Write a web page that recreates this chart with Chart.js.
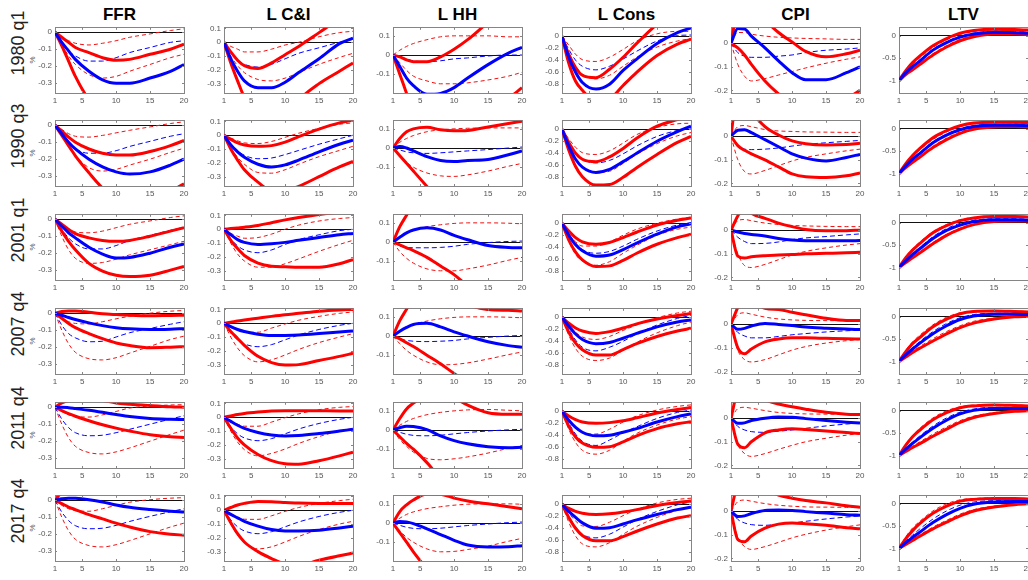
<!DOCTYPE html>
<html><head><meta charset="utf-8">
<script src="https://cdn.jsdelivr.net/npm/chart.js@4.4.1/dist/chart.umd.min.js"></script>
<style>
html,body{margin:0;padding:0;background:#fff;}
body{width:1028px;height:580px;overflow:hidden;position:relative;font-family:'Liberation Sans','DejaVu Sans',sans-serif;}
canvas{position:absolute;}
.title{position:absolute;top:6px;font-family:'Liberation Sans','DejaVu Sans',sans-serif;font-weight:bold;font-size:17px;line-height:17px;color:#000;transform:translateX(-50%);white-space:nowrap;}
.rowlab{position:absolute;font-family:'Liberation Sans','DejaVu Sans',sans-serif;font-weight:normal;font-size:18px;line-height:18px;color:#222;white-space:nowrap;transform:translate(-50%,-50%) rotate(-90deg);}
.pct{position:absolute;font-family:'Liberation Sans','DejaVu Sans',sans-serif;font-size:8px;line-height:8px;color:#555;transform:translate(-50%,-50%) rotate(-90deg);}
</style>
</head><body>
<script>
// ---------- categories / ticks ----------
const steps = [1,2,3,4,6,8,10,12,15,18,20];
const variables = ['FFR','L C&I','L HH','L Cons','CPI','LTV'];
const periods = ['1980 q1','1990 q3','2001 q1','2007 q4','2011 q4','2017 q4'];
const xTickValues = [1,5,10,15,20];
const xTickLabels = ['1','5','10','15','20'];
const yTickValues = [[0,-0.1,-0.2,-0.3],[0.1,0,-0.1,-0.2,-0.3],[0.1,0,-0.1],[0,-0.2,-0.4,-0.6,-0.8],[0,-0.1,-0.2],[0,-0.5,-1]];
const yTickLabels = [['0','-0.1','-0.2','-0.3'],['0.1','0','-0.1','-0.2','-0.3'],['0.1','0','-0.1'],['0','-0.2','-0.4','-0.6','-0.8'],['0','-0.1','-0.2'],['0','-0.5','-1']];
const yMin = [-0.358,-0.368,-0.198,-0.945,-0.211,-1.28];
const yMax = [0.026,0.105,0.142,0.14,0.065,0.18];
const yLabel = '%';

// ---------- series: [blue solid, blue dashed, red upper, red lower, red dashed upper, red dashed lower] ----------
const r1_ffr = [
[0,-0.06,-0.11,-0.16,-0.23,-0.28,-0.30,-0.30,-0.27,-0.23,-0.19],
[0,-0.06,-0.11,-0.14,-0.17,-0.17,-0.15,-0.12,-0.09,-0.06,-0.05],
[0,-0.03,-0.06,-0.09,-0.12,-0.15,-0.165,-0.16,-0.13,-0.10,-0.07],
[0,-0.08,-0.17,-0.26,-0.40,-0.50,-0.55,-0.55,-0.50,-0.45,-0.42],
[0,-0.03,-0.05,-0.065,-0.075,-0.065,-0.05,-0.03,-0.01,0.01,0.02],
[0,-0.07,-0.14,-0.19,-0.25,-0.27,-0.26,-0.23,-0.19,-0.15,-0.13]];
const r1_lci = [
[0,-0.12,-0.21,-0.28,-0.33,-0.33,-0.29,-0.22,-0.12,-0.01,0.03],
[0,-0.08,-0.13,-0.16,-0.18,-0.16,-0.12,-0.08,-0.04,0.0,0.02],
[0,-0.07,-0.13,-0.17,-0.19,-0.15,-0.09,-0.03,0.07,0.17,0.23],
[0,-0.15,-0.28,-0.40,-0.55,-0.60,-0.55,-0.42,-0.30,-0.21,-0.15],
[0,-0.03,-0.05,-0.07,-0.07,-0.05,-0.02,0.0,0.04,0.07,0.08],
[0,-0.10,-0.17,-0.22,-0.27,-0.28,-0.26,-0.22,-0.16,-0.11,-0.08]];
const r1_lhh = [
[0,-0.06,-0.12,-0.16,-0.205,-0.20,-0.17,-0.12,-0.05,0.01,0.04],
[0,-0.01,-0.02,-0.03,-0.035,-0.03,-0.02,-0.015,-0.005,0.0,0.0],
[0,-0.01,-0.025,-0.035,-0.035,-0.01,0.03,0.08,0.17,0.25,0.30],
[0,-0.10,-0.20,-0.30,-0.45,-0.50,-0.50,-0.45,-0.35,-0.23,-0.17],
[0,0.025,0.045,0.06,0.08,0.095,0.10,0.10,0.10,0.095,0.095],
[0,-0.04,-0.08,-0.11,-0.135,-0.15,-0.15,-0.145,-0.13,-0.11,-0.09]];
const r1_lcons = [
[0,-0.35,-0.6,-0.77,-0.88,-0.80,-0.57,-0.38,-0.12,0.06,0.14],
[0,-0.22,-0.4,-0.5,-0.56,-0.50,-0.38,-0.25,-0.08,0.01,0.02],
[0,-0.3,-0.52,-0.65,-0.69,-0.55,-0.35,-0.12,0.2,0.45,0.6],
[0,-0.45,-0.75,-0.9,-1.1,-1.05,-0.82,-0.6,-0.32,-0.13,-0.05],
[0,-0.15,-0.3,-0.39,-0.42,-0.35,-0.22,-0.08,0.04,0.08,0.08],
[0,-0.3,-0.5,-0.63,-0.71,-0.65,-0.5,-0.35,-0.18,-0.08,-0.04]];
const r1_cpi = [
[0,0.062,0.06,0.03,-0.02,-0.075,-0.125,-0.155,-0.155,-0.125,-0.10],
[0,-0.04,-0.055,-0.06,-0.06,-0.055,-0.05,-0.04,-0.03,-0.025,-0.02],
[0,0.15,0.2,0.18,0.1,0.045,0.005,-0.035,-0.058,-0.045,-0.03],
[0,-0.02,-0.05,-0.09,-0.16,-0.215,-0.26,-0.28,-0.27,-0.235,-0.2],
[0,0.045,0.045,0.038,0.03,0.025,0.022,0.02,0.018,0.016,0.016],
[0,-0.09,-0.14,-0.16,-0.15,-0.135,-0.12,-0.105,-0.085,-0.068,-0.058]];
const r1_ltv = [
[-1,-0.83,-0.69,-0.57,-0.32,-0.15,-0.03,0.04,0.08,0.07,0.06],
[-1,-0.82,-0.67,-0.55,-0.3,-0.13,-0.01,0.06,0.1,0.09,0.08],
[-1,-0.78,-0.6,-0.46,-0.22,-0.06,0.06,0.12,0.15,0.14,0.13],
[-1,-0.87,-0.76,-0.65,-0.43,-0.25,-0.11,-0.02,0.04,0.04,0.03],
[-1,-0.8,-0.63,-0.5,-0.26,-0.09,0.03,0.1,0.13,0.12,0.11],
[-1,-0.86,-0.73,-0.62,-0.4,-0.22,-0.08,0.0,0.05,0.05,0.04]];

const r2_ffr = [
[0,-0.05,-0.10,-0.14,-0.2,-0.245,-0.275,-0.288,-0.275,-0.235,-0.2],
[0,-0.06,-0.11,-0.14,-0.165,-0.165,-0.15,-0.125,-0.095,-0.065,-0.05],
[0,-0.035,-0.07,-0.1,-0.14,-0.165,-0.175,-0.175,-0.155,-0.12,-0.09],
[0,-0.06,-0.12,-0.18,-0.28,-0.37,-0.43,-0.46,-0.45,-0.39,-0.345],
[0,-0.025,-0.05,-0.065,-0.07,-0.06,-0.045,-0.03,-0.01,0.01,0.02],
[0,-0.06,-0.13,-0.18,-0.25,-0.27,-0.26,-0.235,-0.2,-0.16,-0.135]];
const r2_lci = [
[0,-0.07,-0.12,-0.16,-0.21,-0.23,-0.215,-0.18,-0.12,-0.065,-0.035],
[0,-0.06,-0.11,-0.145,-0.17,-0.165,-0.14,-0.11,-0.065,-0.025,0.0],
[0,-0.03,-0.055,-0.07,-0.08,-0.075,-0.05,-0.01,0.045,0.09,0.11],
[0,-0.1,-0.18,-0.25,-0.34,-0.4,-0.4,-0.37,-0.3,-0.23,-0.19],
[0,-0.02,-0.04,-0.055,-0.06,-0.045,-0.015,0.015,0.05,0.08,0.09],
[0,-0.09,-0.16,-0.21,-0.27,-0.275,-0.25,-0.21,-0.155,-0.11,-0.08]];
const r2_lhh = [
[0,0.008,0.0,-0.015,-0.045,-0.065,-0.07,-0.065,-0.06,-0.035,-0.015],
[0,-0.01,-0.02,-0.025,-0.028,-0.025,-0.02,-0.015,-0.008,0.0,0.005],
[0,0.05,0.085,0.1,0.108,0.095,0.09,0.092,0.11,0.128,0.14],
[0,-0.04,-0.08,-0.12,-0.2,-0.28,-0.33,-0.35,-0.35,-0.33,-0.3],
[0,0.03,0.05,0.065,0.085,0.095,0.1,0.103,0.105,0.105,0.105],
[0,-0.04,-0.075,-0.1,-0.13,-0.145,-0.148,-0.14,-0.12,-0.095,-0.08]];
const r2_lcons = [
[0,-0.28,-0.5,-0.63,-0.72,-0.67,-0.54,-0.4,-0.2,-0.04,0.05],
[0,-0.22,-0.4,-0.5,-0.56,-0.52,-0.41,-0.28,-0.12,-0.02,0.02],
[0,-0.22,-0.4,-0.5,-0.54,-0.46,-0.32,-0.15,0.05,0.16,0.22],
[0,-0.35,-0.62,-0.79,-0.93,-0.92,-0.8,-0.64,-0.42,-0.22,-0.12],
[0,-0.16,-0.3,-0.39,-0.42,-0.36,-0.23,-0.09,0.03,0.09,0.1],
[0,-0.28,-0.5,-0.63,-0.72,-0.7,-0.57,-0.42,-0.24,-0.11,-0.055]];
const r2_cpi = [
[0,0.025,0.027,0.015,-0.015,-0.045,-0.075,-0.093,-0.105,-0.09,-0.077],
[0,-0.04,-0.055,-0.057,-0.055,-0.05,-0.042,-0.035,-0.028,-0.022,-0.018],
[0,0.2,0.18,0.11,0.04,0.005,-0.02,-0.032,-0.037,-0.035,-0.03],
[0,-0.04,-0.06,-0.075,-0.1,-0.13,-0.16,-0.172,-0.175,-0.168,-0.156],
[0,0.04,0.045,0.04,0.028,0.022,0.02,0.018,0.017,0.016,0.016],
[0,-0.1,-0.15,-0.16,-0.145,-0.125,-0.105,-0.09,-0.075,-0.062,-0.055]];
const r2_ltv = [
[-1,-0.83,-0.68,-0.56,-0.31,-0.14,-0.02,0.05,0.08,0.08,0.07],
[-1,-0.82,-0.66,-0.54,-0.29,-0.12,0.0,0.07,0.1,0.1,0.09],
[-1,-0.78,-0.6,-0.45,-0.2,-0.04,0.07,0.13,0.15,0.15,0.14],
[-1,-0.87,-0.75,-0.64,-0.42,-0.24,-0.1,-0.01,0.04,0.05,0.04],
[-1,-0.79,-0.62,-0.48,-0.24,-0.07,0.05,0.11,0.14,0.13,0.12],
[-1,-0.86,-0.73,-0.62,-0.39,-0.21,-0.07,0.01,0.05,0.06,0.05]];

const r3_ffr = [
[0,-0.04,-0.08,-0.11,-0.165,-0.205,-0.228,-0.225,-0.2,-0.165,-0.145],
[0,-0.06,-0.11,-0.145,-0.175,-0.175,-0.155,-0.125,-0.095,-0.065,-0.048],
[0,-0.03,-0.06,-0.085,-0.11,-0.125,-0.13,-0.125,-0.1,-0.07,-0.05],
[0,-0.07,-0.13,-0.18,-0.26,-0.305,-0.33,-0.338,-0.33,-0.3,-0.278],
[0,-0.03,-0.055,-0.075,-0.08,-0.07,-0.05,-0.03,-0.01,0.01,0.02],
[0,-0.1,-0.18,-0.23,-0.26,-0.255,-0.235,-0.21,-0.18,-0.15,-0.13]];
const r3_lci = [
[0,-0.04,-0.075,-0.095,-0.11,-0.105,-0.095,-0.08,-0.06,-0.04,-0.03],
[0,-0.07,-0.12,-0.15,-0.17,-0.15,-0.11,-0.075,-0.04,-0.01,0.0],
[0,0.005,0.01,0.015,0.028,0.048,0.068,0.085,0.107,0.125,0.135],
[0,-0.08,-0.14,-0.19,-0.245,-0.268,-0.272,-0.275,-0.275,-0.25,-0.22],
[0,-0.03,-0.05,-0.065,-0.06,-0.035,0.0,0.03,0.06,0.078,0.085],
[0,-0.1,-0.18,-0.23,-0.275,-0.275,-0.25,-0.215,-0.16,-0.11,-0.08]];
const r3_lhh = [
[0,0.025,0.048,0.063,0.074,0.063,0.035,0.012,-0.018,-0.028,-0.03],
[0,-0.02,-0.028,-0.03,-0.03,-0.028,-0.022,-0.012,-0.003,0.003,0.005],
[0,0.08,0.14,0.2,0.3,0.35,0.38,0.38,0.36,0.33,0.3],
[0,-0.015,-0.03,-0.045,-0.08,-0.125,-0.17,-0.23,-0.3,-0.35,-0.37],
[0,0.025,0.045,0.06,0.08,0.09,0.097,0.1,0.1,0.098,0.095],
[0,-0.05,-0.085,-0.11,-0.14,-0.15,-0.15,-0.14,-0.12,-0.095,-0.08]];
const r3_lcons = [
[0,-0.2,-0.36,-0.46,-0.55,-0.53,-0.44,-0.33,-0.18,-0.06,-0.01],
[0,-0.18,-0.33,-0.44,-0.5,-0.47,-0.38,-0.27,-0.13,-0.03,0.01],
[0,-0.13,-0.24,-0.31,-0.35,-0.32,-0.24,-0.15,-0.03,0.05,0.085],
[0,-0.28,-0.48,-0.61,-0.72,-0.71,-0.62,-0.5,-0.35,-0.24,-0.185],
[0,-0.18,-0.31,-0.38,-0.38,-0.31,-0.2,-0.1,0.0,0.07,0.1],
[0,-0.3,-0.52,-0.63,-0.7,-0.64,-0.5,-0.37,-0.2,-0.1,-0.065]];
const r3_cpi = [
[0,-0.008,-0.014,-0.018,-0.025,-0.035,-0.042,-0.045,-0.045,-0.045,-0.044],
[0,-0.03,-0.048,-0.057,-0.056,-0.05,-0.04,-0.033,-0.027,-0.02,-0.016],
[0,0.06,0.1,0.072,0.05,0.03,0.015,0.003,-0.002,-0.002,0.0],
[0,-0.11,-0.118,-0.113,-0.108,-0.105,-0.103,-0.1,-0.098,-0.096,-0.094],
[0,0.04,0.045,0.04,0.03,0.024,0.02,0.018,0.016,0.015,0.015],
[0,-0.1,-0.15,-0.158,-0.145,-0.125,-0.105,-0.09,-0.075,-0.063,-0.057]];
const r3_ltv = [
[-1,-0.85,-0.71,-0.59,-0.35,-0.17,-0.05,0.03,0.07,0.07,0.06],
[-1,-0.83,-0.68,-0.56,-0.31,-0.13,-0.01,0.06,0.09,0.09,0.08],
[-1,-0.78,-0.61,-0.47,-0.22,-0.06,0.05,0.11,0.14,0.14,0.13],
[-1,-0.89,-0.78,-0.68,-0.47,-0.28,-0.14,-0.04,0.03,0.04,0.04],
[-1,-0.76,-0.58,-0.44,-0.2,-0.04,0.07,0.12,0.14,0.14,0.13],
[-1,-0.88,-0.76,-0.66,-0.44,-0.26,-0.12,-0.03,0.03,0.05,0.05]];

const r4_ffr = [
[0,-0.012,-0.025,-0.037,-0.057,-0.073,-0.085,-0.092,-0.096,-0.094,-0.091],
[0,-0.07,-0.12,-0.145,-0.168,-0.165,-0.14,-0.115,-0.09,-0.065,-0.05],
[0,0.01,0.013,0.013,0.006,-0.003,-0.008,-0.012,-0.015,-0.013,-0.012],
[0,-0.03,-0.06,-0.085,-0.12,-0.15,-0.175,-0.19,-0.203,-0.2,-0.197],
[0,-0.03,-0.05,-0.06,-0.063,-0.05,-0.033,-0.018,0.0,0.012,0.016],
[0,-0.1,-0.18,-0.23,-0.268,-0.275,-0.262,-0.235,-0.195,-0.155,-0.135]];
const r4_lci = [
[0,-0.025,-0.045,-0.06,-0.08,-0.089,-0.088,-0.085,-0.075,-0.063,-0.056],
[0,-0.07,-0.12,-0.15,-0.17,-0.155,-0.12,-0.085,-0.045,-0.015,0.0],
[0,0.008,0.017,0.024,0.037,0.05,0.062,0.072,0.088,0.097,0.1],
[0,-0.06,-0.11,-0.16,-0.24,-0.285,-0.303,-0.3,-0.27,-0.24,-0.218],
[0,-0.03,-0.05,-0.063,-0.065,-0.035,-0.005,0.022,0.05,0.072,0.082],
[0,-0.1,-0.18,-0.235,-0.28,-0.265,-0.23,-0.19,-0.14,-0.1,-0.075]];
const r4_lhh = [
[0,0.025,0.045,0.06,0.066,0.048,0.022,0.0,-0.03,-0.05,-0.058],
[0,-0.015,-0.023,-0.027,-0.029,-0.027,-0.023,-0.015,-0.007,0.0,0.003],
[0,0.08,0.14,0.2,0.27,0.28,0.25,0.17,0.138,0.134,0.13],
[0,-0.015,-0.035,-0.055,-0.1,-0.145,-0.195,-0.24,-0.3,-0.33,-0.35],
[0,0.025,0.045,0.06,0.078,0.09,0.097,0.1,0.1,0.098,0.095],
[0,-0.04,-0.075,-0.1,-0.135,-0.15,-0.148,-0.14,-0.12,-0.097,-0.083]];
const r4_lcons = [
[0,-0.15,-0.28,-0.37,-0.44,-0.42,-0.35,-0.27,-0.16,-0.08,-0.045],
[0,-0.2,-0.38,-0.5,-0.56,-0.5,-0.4,-0.28,-0.13,-0.02,0.03],
[0,-0.1,-0.18,-0.23,-0.27,-0.24,-0.18,-0.11,-0.03,0.03,0.06],
[0,-0.25,-0.43,-0.54,-0.63,-0.63,-0.54,-0.44,-0.32,-0.23,-0.185],
[0,-0.13,-0.25,-0.33,-0.37,-0.32,-0.22,-0.13,-0.01,0.07,0.1],
[0,-0.3,-0.52,-0.65,-0.72,-0.68,-0.55,-0.42,-0.26,-0.14,-0.08]];
const r4_cpi = [
[0,-0.022,-0.018,-0.008,0.003,-0.001,-0.006,-0.012,-0.017,-0.021,-0.023],
[0,-0.035,-0.05,-0.058,-0.058,-0.052,-0.045,-0.04,-0.033,-0.028,-0.025],
[0,0.07,0.12,0.11,0.067,0.062,0.05,0.04,0.025,0.016,0.016],
[0,-0.1,-0.125,-0.105,-0.075,-0.063,-0.058,-0.058,-0.06,-0.062,-0.063],
[0,0.04,0.048,0.042,0.03,0.022,0.018,0.016,0.015,0.015,0.015],
[0,-0.11,-0.15,-0.16,-0.15,-0.13,-0.11,-0.095,-0.08,-0.07,-0.065]];
const r4_ltv = [
[-1,-0.85,-0.72,-0.6,-0.38,-0.2,-0.06,0.02,0.06,0.06,0.05],
[-1,-0.83,-0.69,-0.56,-0.33,-0.15,-0.02,0.05,0.08,0.08,0.07],
[-1,-0.78,-0.6,-0.47,-0.22,-0.05,0.07,0.12,0.13,0.12,0.11],
[-1,-0.9,-0.8,-0.71,-0.54,-0.38,-0.24,-0.14,-0.05,0.0,0.01],
[-1,-0.75,-0.56,-0.42,-0.18,-0.01,0.09,0.13,0.14,0.13,0.12],
[-1,-0.88,-0.77,-0.67,-0.49,-0.33,-0.2,-0.1,-0.03,0.01,0.02]];

const r5_ffr = [
[0,0.0,-0.003,-0.008,-0.018,-0.03,-0.043,-0.055,-0.066,-0.071,-0.073],
[0,-0.07,-0.12,-0.15,-0.168,-0.165,-0.15,-0.13,-0.1,-0.07,-0.05],
[0,0.025,0.04,0.05,0.05,0.04,0.025,0.018,0.01,0.003,0.0],
[0,-0.02,-0.038,-0.053,-0.08,-0.103,-0.123,-0.14,-0.162,-0.174,-0.178],
[0,-0.025,-0.045,-0.055,-0.058,-0.045,-0.025,-0.005,0.007,0.013,0.015],
[0,-0.1,-0.18,-0.23,-0.267,-0.275,-0.263,-0.24,-0.2,-0.16,-0.135]];
const r5_lci = [
[0,-0.03,-0.058,-0.08,-0.11,-0.128,-0.135,-0.132,-0.118,-0.1,-0.087],
[0,-0.07,-0.12,-0.15,-0.17,-0.155,-0.12,-0.085,-0.045,-0.015,0.0],
[0,0.01,0.02,0.028,0.038,0.045,0.048,0.048,0.047,0.046,0.046],
[0,-0.08,-0.15,-0.2,-0.27,-0.315,-0.337,-0.34,-0.315,-0.28,-0.253],
[0,-0.03,-0.05,-0.065,-0.065,-0.035,-0.003,0.025,0.055,0.072,0.078],
[0,-0.1,-0.18,-0.235,-0.28,-0.262,-0.23,-0.19,-0.14,-0.1,-0.08]];
const r5_lhh = [
[0,0.012,0.02,0.018,0.002,-0.03,-0.055,-0.072,-0.087,-0.093,-0.09],
[0,-0.012,-0.022,-0.028,-0.03,-0.027,-0.02,-0.013,-0.005,0.001,0.004],
[0,0.06,0.11,0.14,0.19,0.2,0.17,0.13,0.09,0.082,0.082],
[0,-0.035,-0.07,-0.1,-0.17,-0.25,-0.3,-0.33,-0.35,-0.35,-0.35],
[0,0.025,0.045,0.06,0.08,0.092,0.1,0.105,0.107,0.103,0.1],
[0,-0.05,-0.085,-0.115,-0.148,-0.155,-0.15,-0.14,-0.12,-0.095,-0.08]];
const r5_lcons = [
[0,-0.15,-0.27,-0.35,-0.41,-0.4,-0.35,-0.29,-0.18,-0.09,-0.045],
[0,-0.2,-0.38,-0.5,-0.57,-0.48,-0.36,-0.26,-0.12,-0.02,0.02],
[0,-0.08,-0.14,-0.18,-0.2,-0.19,-0.16,-0.11,-0.03,0.03,0.06],
[0,-0.25,-0.43,-0.53,-0.6,-0.59,-0.51,-0.41,-0.29,-0.21,-0.175],
[0,-0.15,-0.28,-0.36,-0.38,-0.3,-0.18,-0.08,0.02,0.08,0.105],
[0,-0.3,-0.52,-0.65,-0.715,-0.65,-0.5,-0.37,-0.23,-0.13,-0.09]];
const r5_cpi = [
[0,-0.022,-0.02,-0.01,0.0,0.005,0.004,-0.002,-0.01,-0.017,-0.021],
[0,-0.035,-0.05,-0.057,-0.06,-0.055,-0.05,-0.043,-0.033,-0.025,-0.02],
[0,0.12,0.15,0.13,0.08,0.06,0.048,0.038,0.025,0.017,0.015],
[0,-0.11,-0.125,-0.1,-0.062,-0.05,-0.045,-0.048,-0.054,-0.061,-0.065],
[0,0.04,0.046,0.042,0.032,0.024,0.02,0.018,0.017,0.016,0.015],
[0,-0.11,-0.15,-0.162,-0.15,-0.132,-0.115,-0.1,-0.085,-0.072,-0.065]];
const r5_ltv = [
[-1,-0.86,-0.73,-0.61,-0.39,-0.21,-0.07,0.01,0.05,0.05,0.05],
[-1,-0.84,-0.7,-0.57,-0.34,-0.16,-0.03,0.04,0.08,0.08,0.07],
[-1,-0.77,-0.58,-0.44,-0.2,-0.04,0.07,0.11,0.13,0.12,0.11],
[-1,-0.91,-0.82,-0.74,-0.57,-0.41,-0.26,-0.15,-0.06,-0.01,0.0],
[-1,-0.75,-0.55,-0.4,-0.16,0.0,0.09,0.13,0.14,0.13,0.12],
[-1,-0.89,-0.79,-0.7,-0.52,-0.36,-0.22,-0.12,-0.04,0.0,0.01]];

const r6_ffr = [
[0,0.008,0.012,0.011,0.003,-0.01,-0.028,-0.042,-0.055,-0.065,-0.07],
[0,-0.07,-0.12,-0.15,-0.168,-0.165,-0.148,-0.125,-0.095,-0.068,-0.05],
[0,0.05,0.08,0.1,0.1,0.09,0.08,0.07,0.06,0.05,0.045],
[0,-0.02,-0.04,-0.055,-0.085,-0.11,-0.135,-0.158,-0.185,-0.2,-0.206],
[0,-0.03,-0.05,-0.062,-0.065,-0.05,-0.03,-0.012,0.003,0.012,0.015],
[0,-0.1,-0.18,-0.23,-0.267,-0.275,-0.262,-0.238,-0.198,-0.158,-0.135]];
const r6_lci = [
[0,-0.03,-0.055,-0.08,-0.115,-0.14,-0.15,-0.15,-0.145,-0.128,-0.115],
[0,-0.07,-0.12,-0.15,-0.17,-0.155,-0.12,-0.085,-0.045,-0.015,0.0],
[0,0.02,0.038,0.05,0.064,0.062,0.057,0.052,0.05,0.05,0.05],
[0,-0.09,-0.17,-0.23,-0.3,-0.35,-0.39,-0.4,-0.362,-0.33,-0.31],
[0,-0.03,-0.05,-0.065,-0.066,-0.04,-0.008,0.02,0.05,0.07,0.08],
[0,-0.1,-0.18,-0.235,-0.28,-0.265,-0.23,-0.19,-0.14,-0.1,-0.08]];
const r6_lhh = [
[0,0.008,0.006,-0.003,-0.03,-0.06,-0.09,-0.115,-0.125,-0.124,-0.118],
[0,-0.012,-0.022,-0.028,-0.03,-0.027,-0.02,-0.013,-0.005,0.002,0.005],
[0,0.06,0.095,0.12,0.152,0.15,0.13,0.115,0.1,0.085,0.075],
[0,-0.05,-0.1,-0.15,-0.24,-0.32,-0.38,-0.42,-0.45,-0.45,-0.45],
[0,0.025,0.045,0.058,0.075,0.085,0.093,0.098,0.1,0.1,0.098],
[0,-0.04,-0.075,-0.1,-0.135,-0.15,-0.148,-0.138,-0.12,-0.095,-0.08]];
const r6_lcons = [
[0,-0.12,-0.22,-0.31,-0.4,-0.39,-0.33,-0.26,-0.17,-0.09,-0.05],
[0,-0.2,-0.38,-0.5,-0.56,-0.5,-0.38,-0.26,-0.12,-0.01,0.04],
[0,-0.07,-0.12,-0.15,-0.17,-0.16,-0.13,-0.09,-0.02,0.03,0.055],
[0,-0.22,-0.4,-0.52,-0.61,-0.61,-0.54,-0.45,-0.33,-0.23,-0.19],
[0,-0.15,-0.28,-0.36,-0.37,-0.3,-0.19,-0.09,0.02,0.08,0.1],
[0,-0.3,-0.53,-0.66,-0.71,-0.64,-0.5,-0.37,-0.22,-0.1,-0.05]];
const r6_cpi = [
[0,-0.023,-0.02,-0.01,0.003,0.005,0.003,-0.002,-0.008,-0.015,-0.017],
[0,-0.035,-0.05,-0.057,-0.06,-0.055,-0.05,-0.043,-0.033,-0.025,-0.02],
[0,0.12,0.16,0.15,0.1,0.068,0.055,0.045,0.035,0.023,0.017],
[0,-0.12,-0.13,-0.105,-0.072,-0.055,-0.05,-0.053,-0.06,-0.07,-0.075],
[0,0.04,0.047,0.042,0.032,0.025,0.021,0.018,0.017,0.016,0.015],
[0,-0.11,-0.15,-0.162,-0.15,-0.132,-0.113,-0.098,-0.08,-0.066,-0.058]];
const r6_ltv = [
[-1,-0.87,-0.75,-0.64,-0.42,-0.24,-0.1,-0.01,0.04,0.05,0.05],
[-1,-0.84,-0.7,-0.57,-0.34,-0.16,-0.03,0.04,0.07,0.07,0.07],
[-1,-0.78,-0.6,-0.45,-0.21,-0.05,0.06,0.1,0.12,0.12,0.11],
[-1,-0.91,-0.82,-0.73,-0.56,-0.41,-0.27,-0.16,-0.07,-0.02,0.0],
[-1,-0.74,-0.54,-0.4,-0.16,0.0,0.09,0.12,0.13,0.12,0.11],
[-1,-0.89,-0.79,-0.7,-0.52,-0.37,-0.23,-0.13,-0.05,-0.01,0.01]];

const panels = [
  [r1_ffr,r1_lci,r1_lhh,r1_lcons,r1_cpi,r1_ltv],
  [r2_ffr,r2_lci,r2_lhh,r2_lcons,r2_cpi,r2_ltv],
  [r3_ffr,r3_lci,r3_lhh,r3_lcons,r3_cpi,r3_ltv],
  [r4_ffr,r4_lci,r4_lhh,r4_lcons,r4_cpi,r4_ltv],
  [r5_ffr,r5_lci,r5_lhh,r5_lcons,r5_cpi,r5_ltv],
  [r6_ffr,r6_lci,r6_lhh,r6_lcons,r6_cpi,r6_ltv]];

// ---------- layout & styles ----------
const colLeft = [55,224,393,562,731,899];
const rowTop = [26,119,213,307,401,494];
const PW = 129, PH = 67, LM = 32, RM = 8, TM = 6, BM = 14;
const seriesStyle = [
  {color:'#0000ff', width:3, dash:[], order:0},
  {color:'#0000ff', width:1, dash:[5,3], order:3},
  {color:'#ff0000', width:3, dash:[], order:1},
  {color:'#ff0000', width:3, dash:[], order:2},
  {color:'#f01010', width:1, dash:[4,3], order:4},
  {color:'#f01010', width:1, dash:[4,3], order:5}];
const FRAME = '#858585', TICKTXT = '#555';
const tickFont = {size:8, family:"'Liberation Sans', 'DejaVu Sans', sans-serif"};

const innerTicks = {
  id:'innerTicks',
  afterDraw(chart){
    const {ctx, chartArea:a, scales:{x, y}} = chart;
    ctx.save(); ctx.strokeStyle = FRAME; ctx.lineWidth = 1; ctx.beginPath();
    x.ticks.forEach(t=>{ const px = Math.round(x.getPixelForValue(t.value))+0.5;
      ctx.moveTo(px,a.bottom); ctx.lineTo(px,a.bottom-2); ctx.moveTo(px,a.top); ctx.lineTo(px,a.top+2); });
    y.ticks.forEach(t=>{ const py = Math.round(y.getPixelForValue(t.value))+0.5;
      ctx.moveTo(a.left,py); ctx.lineTo(a.left+2,py); ctx.moveTo(a.right,py); ctx.lineTo(a.right-2,py); });
    ctx.stroke(); ctx.restore();
  }
};

function addDiv(cls, text, left, top){
  const d = document.createElement('div'); d.className = cls; d.textContent = text;
  d.style.left = left+'px'; d.style.top = top+'px'; document.body.appendChild(d); return d;
}
variables.forEach((v,c)=>addDiv('title', v, colLeft[c]+PW/2, 6));
periods.forEach((p,r)=>{ addDiv('rowlab', p, 18, rowTop[r]+17); addDiv('pct', yLabel, 33, rowTop[r]+34); });

panels.forEach((row, r)=>row.forEach((series, c)=>{
  const cv = document.createElement('canvas');
  const W = LM+PW+RM, H = TM+PH+BM;
  cv.width = W; cv.height = H; cv.style.width = W+'px'; cv.style.height = H+'px';
  cv.style.left = (colLeft[c]-LM)+'px'; cv.style.top = (rowTop[r]-TM)+'px';
  document.body.appendChild(cv);
  const datasets = series.map((vals, k)=>({
    data: vals.map((v,i)=>({x:steps[i], y:v})),
    borderColor: seriesStyle[k].color, borderWidth: seriesStyle[k].width,
    borderDash: seriesStyle[k].dash, order: seriesStyle[k].order,
    pointRadius:0, fill:false, cubicInterpolationMode:'monotone', clip:0
  }));
  new Chart(cv, {
    type:'line',
    data:{datasets},
    options:{
      responsive:false, animation:false, devicePixelRatio:1,
      layout:{padding:{top:TM, right:RM, left:0, bottom:0}},
      plugins:{legend:{display:false}, tooltip:{enabled:false}},
      scales:{
        x:{type:'linear', min:1, max:20,
           afterBuildTicks:s=>{ s.ticks = xTickValues.map(v=>({value:v})); },
           afterFit:s=>{ s.height = BM; },
           ticks:{autoSkip:false, maxRotation:0, padding:3, color:TICKTXT, font:tickFont,
                  callback:(v,i)=>xTickLabels[i]},
           grid:{display:false, drawTicks:false},
           border:{display:true, color:FRAME, width:1}},
        y:{type:'linear', min:yMin[c], max:yMax[c],
           afterBuildTicks:s=>{ s.ticks = yTickValues[c].map(v=>({value:v})); },
           afterFit:s=>{ s.width = LM; },
           ticks:{autoSkip:false, padding:3, color:TICKTXT, font:tickFont,
                  callback:(v,i)=>yTickLabels[c][i]},
           grid:{drawTicks:false, lineWidth:1,
                 color:ctx=>(ctx.tick && ctx.tick.value===0) ? '#111' : 'rgba(0,0,0,0)'},
           border:{display:true, color:FRAME, width:1}},
        x2:{type:'linear', position:'top', min:1, max:20,
            afterFit:s=>{ s.height = 0; },
            ticks:{display:false}, grid:{display:false, drawTicks:false},
            border:{display:true, color:FRAME, width:1}},
        y2:{type:'linear', position:'right', min:yMin[c], max:yMax[c],
            afterFit:s=>{ s.width = 0; },
            ticks:{display:false}, grid:{display:false, drawTicks:false},
            border:{display:true, color:FRAME, width:1}}
      }
    },
    plugins:[innerTicks]
  });
}));
</script>
</body></html>
